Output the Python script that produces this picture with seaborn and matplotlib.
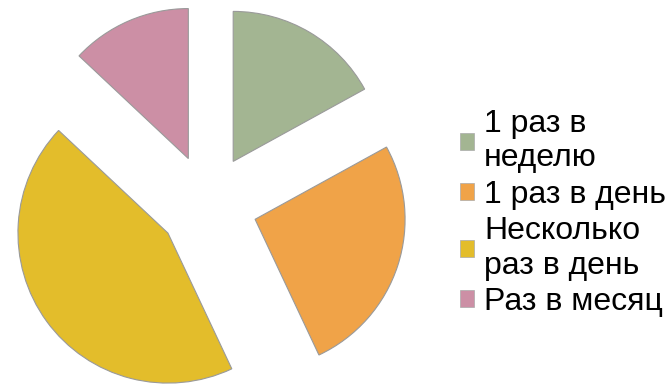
import matplotlib
matplotlib.use("Agg")
import matplotlib.pyplot as plt
import seaborn as sns
from matplotlib.patches import Patch

categories = ["1 раз в\nнеделю", "1 раз в день", "Несколько\nраз в день", "Раз в месяц"]
values = [17, 26, 44, 13]
colors = ["#A3B592", "#F0A348", "#E3BD2B", "#CC8FA5"]

sns.set_theme(style="white")
plt.rcParams['font.family'] = ['Liberation Sans', 'DejaVu Sans']

W, H = 670, 386
fig = plt.figure(figsize=(W / 100, H / 100), dpi=100)

# pie axes: center (208, 204 from top), 150 px per unit
cx, cy, scale, L = 208, H - 204, 150, 1.4
S = 2 * L * scale
ax = fig.add_axes([(cx - S / 2) / W, (cy - S / 2) / H, S / W, S / H])
ax.pie(values, colors=colors, startangle=90, counterclock=False,
       explode=[0.33] * len(values), radius=1.0,
       wedgeprops=dict(edgecolor="#9a9a9a", linewidth=0.8))
ax.set_xlim(-L, L)
ax.set_ylim(-L, L)
ax.set_aspect("equal")
ax.axis("off")

handles = [Patch(facecolor=c, edgecolor="#aaaaaa", linewidth=0.5) for c in colors]
leg = fig.legend(handles, categories, loc="upper left",
                 bbox_to_anchor=(460 / W, 1 - 109 / H), frameon=False,
                 fontsize=23, handlelength=0.45, handleheight=0.45,
                 handletextpad=0.3, labelspacing=0.2, borderpad=0, borderaxespad=0)
for t in leg.get_texts():
    t.set_linespacing(1.19)
    t.set_color("black")

fig.savefig("out.png", dpi=100)
